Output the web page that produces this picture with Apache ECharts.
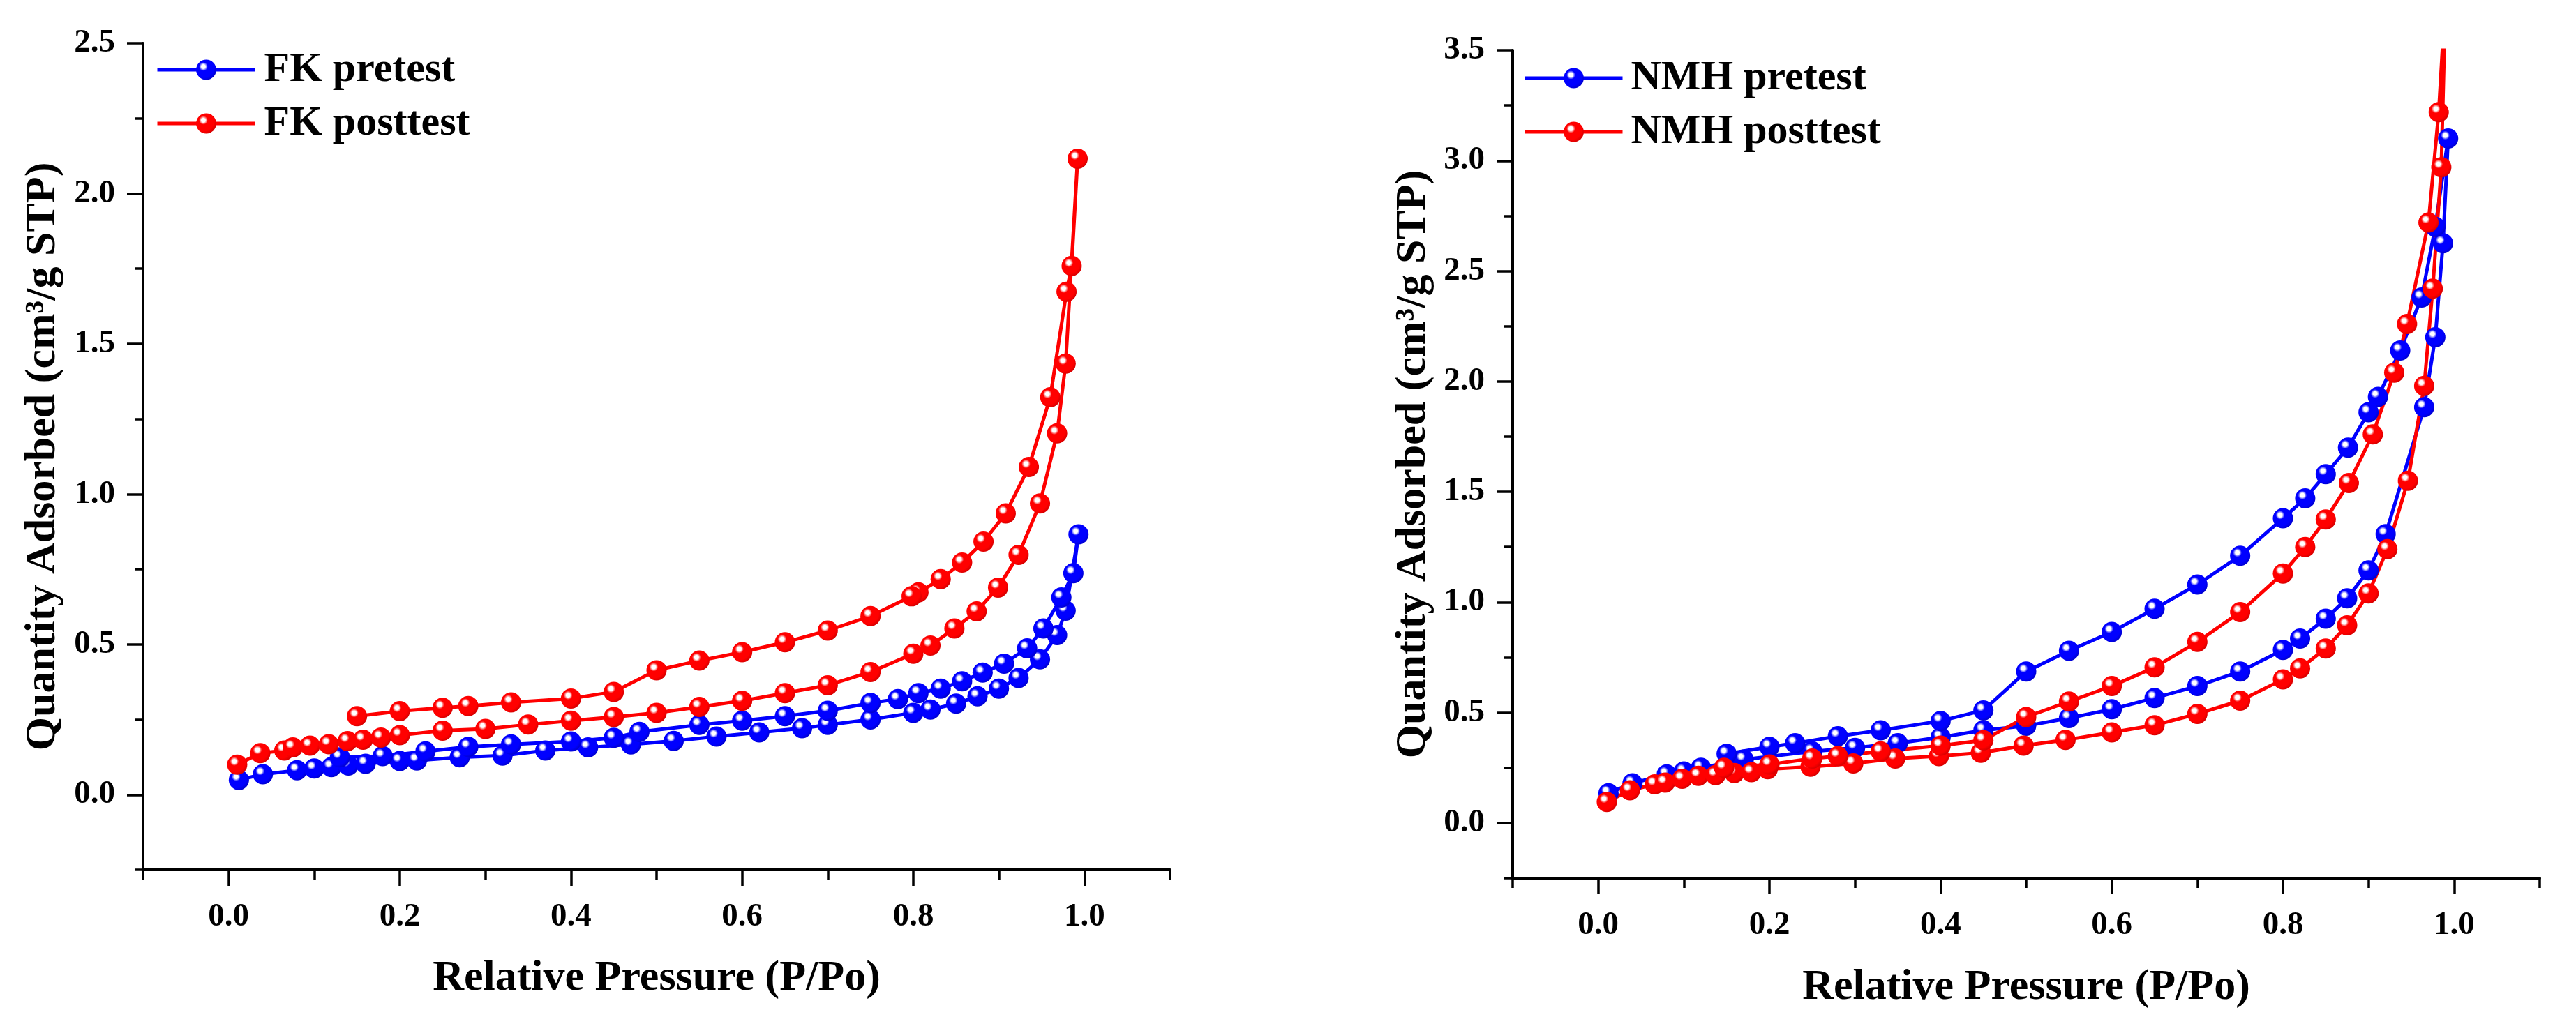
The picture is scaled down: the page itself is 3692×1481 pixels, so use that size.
<!DOCTYPE html>
<html>
<head>
<meta charset="utf-8">
<title>Isotherms</title>
<script src="https://cdn.jsdelivr.net/npm/echarts@6/dist/echarts.min.js"></script>
<style>
  html, body { margin: 0; padding: 0; background: #fff; }
  #main { width: 3692px; height: 1481px; }
</style>
</head>
<body>
<div id="main"></div>
<script>
// FK pretest: adsorption branch, then desorption branch
var fkPreAdsX = [0.012, 0.04, 0.08, 0.10, 0.12, 0.14, 0.16, 0.20, 0.22, 0.27, 0.32, 0.37, 0.42, 0.47, 0.52, 0.57, 0.62, 0.67, 0.70, 0.75, 0.80, 0.82, 0.85, 0.875, 0.90, 0.923, 0.948, 0.968, 0.978, 0.993];
var fkPreAdsY = [0.049, 0.068, 0.081, 0.087, 0.092, 0.097, 0.103, 0.112, 0.114, 0.124, 0.13, 0.147, 0.157, 0.167, 0.179, 0.193, 0.207, 0.221, 0.232, 0.25, 0.272, 0.283, 0.303, 0.327, 0.353, 0.388, 0.45, 0.531, 0.612, 0.866];
var fkPreDesX = [0.987, 0.973, 0.952, 0.933, 0.906, 0.881, 0.857, 0.832, 0.806, 0.782, 0.75, 0.70, 0.65, 0.60, 0.55, 0.48, 0.45, 0.40, 0.33, 0.28, 0.23, 0.18, 0.13];
var fkPreDesY = [0.737, 0.656, 0.553, 0.487, 0.436, 0.406, 0.377, 0.353, 0.338, 0.318, 0.305, 0.279, 0.261, 0.246, 0.232, 0.209, 0.189, 0.177, 0.167, 0.159, 0.144, 0.128, 0.124];

// FK posttest
var fkPostAdsX = [0.01, 0.037, 0.065, 0.075, 0.095, 0.117, 0.139, 0.157, 0.178, 0.20, 0.25, 0.30, 0.35, 0.40, 0.45, 0.50, 0.55, 0.60, 0.65, 0.70, 0.75, 0.80, 0.82, 0.848, 0.874, 0.899, 0.923, 0.948, 0.968, 0.978, 0.992];
var fkPostAdsY = [0.10, 0.138, 0.147, 0.157, 0.163, 0.168, 0.178, 0.183, 0.19, 0.198, 0.213, 0.219, 0.233, 0.246, 0.258, 0.272, 0.292, 0.312, 0.338, 0.364, 0.408, 0.469, 0.496, 0.553, 0.61, 0.689, 0.798, 0.969, 1.202, 1.434, 2.116];
var fkPostDesX = [0.985, 0.979, 0.96, 0.935, 0.908, 0.882, 0.857, 0.832, 0.806, 0.798, 0.75, 0.70, 0.65, 0.60, 0.55, 0.50, 0.45, 0.40, 0.33, 0.28, 0.25, 0.20, 0.15];
var fkPostDesY = [1.759, 1.673, 1.322, 1.09, 0.936, 0.842, 0.772, 0.717, 0.673, 0.66, 0.594, 0.546, 0.507, 0.474, 0.446, 0.414, 0.342, 0.32, 0.307, 0.295, 0.289, 0.278, 0.261];

// NMH pretest
var nmhPreAdsX = [0.012, 0.04, 0.08, 0.10, 0.12, 0.17, 0.25, 0.30, 0.35, 0.40, 0.45, 0.50, 0.55, 0.60, 0.65, 0.70, 0.75, 0.80, 0.82, 0.85, 0.875, 0.90, 0.92, 0.965, 0.978, 0.987, 0.993];
var nmhPreAdsY = [0.135, 0.18, 0.22, 0.233, 0.25, 0.287, 0.324, 0.34, 0.361, 0.388, 0.42, 0.44, 0.475, 0.515, 0.566, 0.62, 0.686, 0.784, 0.835, 0.925, 1.018, 1.144, 1.308, 1.883, 2.20, 2.626, 3.10];
var nmhPreDesX = [0.978, 0.962, 0.937, 0.911, 0.90, 0.876, 0.85, 0.826, 0.80, 0.75, 0.70, 0.65, 0.60, 0.55, 0.50, 0.45, 0.40, 0.33, 0.28, 0.23, 0.20, 0.15];
var nmhPreDesY = [2.70, 2.38, 2.14, 1.93, 1.86, 1.70, 1.58, 1.47, 1.38, 1.21, 1.08, 0.97, 0.865, 0.78, 0.686, 0.51, 0.462, 0.42, 0.393, 0.361, 0.345, 0.313];

// NMH posttest (highest point runs off the top of the axis)
var nmhPostAdsX = [0.01, 0.037, 0.066, 0.078, 0.098, 0.117, 0.137, 0.159, 0.179, 0.198, 0.248, 0.298, 0.347, 0.398, 0.447, 0.497, 0.546, 0.60, 0.65, 0.70, 0.75, 0.80, 0.82, 0.85, 0.875, 0.90, 0.922, 0.946, 0.965, 0.975, 0.985, 0.99];
var nmhPostAdsY = [0.095, 0.148, 0.175, 0.183, 0.20, 0.214, 0.217, 0.226, 0.23, 0.244, 0.255, 0.27, 0.292, 0.303, 0.318, 0.35, 0.376, 0.41, 0.443, 0.494, 0.554, 0.65, 0.70, 0.79, 0.895, 1.04, 1.24, 1.55, 1.98, 2.42, 2.97, 3.75];
var nmhPostDesX = [0.982, 0.97, 0.945, 0.93, 0.905, 0.877, 0.85, 0.826, 0.80, 0.75, 0.70, 0.65, 0.60, 0.55, 0.50, 0.45, 0.40, 0.33, 0.28, 0.25, 0.20, 0.147];
var nmhPostDesY = [3.22, 2.72, 2.26, 2.04, 1.76, 1.54, 1.375, 1.25, 1.13, 0.955, 0.82, 0.705, 0.62, 0.55, 0.48, 0.375, 0.35, 0.324, 0.303, 0.292, 0.265, 0.25];

// ticks
var xMajor = [0, 0.2, 0.4, 0.6, 0.8, 1.0];
var xMinor = [-0.1, 0.1, 0.3, 0.5, 0.7, 0.9, 1.1];
var yMajorFK = [0, 0.5, 1.0, 1.5, 2.0, 2.5];
var yMinorFK = [-0.25, 0.25, 0.75, 1.25, 1.75, 2.25];
var yMajorNMH = [0, 0.5, 1.0, 1.5, 2.0, 2.5, 3.0, 3.5];
var yMinorNMH = [-0.25, 0.25, 0.75, 1.25, 1.75, 2.25, 2.75, 3.25];

var FONT = '"Liberation Serif", "Times New Roman", serif';
var BLUE = '#0000ff', RED = '#ff0000';

function pairs(xs1, ys1, xs2, ys2) {
  var out = [];
  for (var i = 0; i < xs1.length; i++) out.push([xs1[i], ys1[i]]);
  for (var j = 0; j < xs2.length; j++) out.push([xs2[j], ys2[j]]);
  return out;
}

// glossy ball fill: small white spot upper-left
function ball(c, dark) {
  return {
    type: 'radial', x: 0.36, y: 0.34, r: 0.72,
    colorStops: [
      { offset: 0, color: '#ffffff' },
      { offset: 0.14, color: '#ffffff' },
      { offset: 0.3, color: c },
      { offset: 0.75, color: c },
      { offset: 1, color: dark }
    ]
  };
}

function xAxes(g, nameGap) {
  return [{
    type: 'value', gridIndex: g, position: 'bottom',
    min: -0.1, max: 1.1, interval: 0.1,
    name: 'Relative Pressure (P/Po)', nameLocation: 'middle', nameGap: nameGap,
    nameTextStyle: { fontFamily: FONT, fontWeight: 'bold', fontSize: 62, color: '#000' },
    axisLine: { show: true, onZero: false, lineStyle: { color: '#000', width: 4 } },
    axisTick: { show: true, length: 23, customValues: xMajor, lineStyle: { color: '#000', width: 3.5 } },
    axisLabel: {
      customValues: xMajor, margin: 44, fontFamily: FONT, fontWeight: 'bold', fontSize: 47, color: '#000',
      formatter: function (v) { return v.toFixed(1); }
    },
    splitLine: { show: false }
  }, {
    type: 'value', gridIndex: g, position: 'bottom',
    min: -0.1, max: 1.1, interval: 0.1,
    axisLine: { show: false, onZero: false },
    axisTick: { show: true, length: 14, customValues: xMinor, lineStyle: { color: '#000', width: 3.5 } },
    axisLabel: { show: false },
    splitLine: { show: false }
  }];
}

function yAxes(g, max, major, minor, nameGap) {
  return [{
    type: 'value', gridIndex: g, position: 'left',
    min: -0.25, max: max, interval: 0.25,
    name: 'Quantity Adsorbed (cm³/g STP)', nameLocation: 'middle', nameGap: nameGap, nameRotate: 90,
    nameTextStyle: { fontFamily: FONT, fontWeight: 'bold', fontSize: 62, color: '#000' },
    axisLine: { show: true, onZero: false, lineStyle: { color: '#000', width: 4 } },
    axisTick: { show: true, length: 23, customValues: major, lineStyle: { color: '#000', width: 3.5 } },
    axisLabel: {
      customValues: major, margin: 40, fontFamily: FONT, fontWeight: 'bold', fontSize: 47, color: '#000',
      formatter: function (v) { return v.toFixed(1); }
    },
    splitLine: { show: false }
  }, {
    type: 'value', gridIndex: g, position: 'left',
    min: -0.25, max: max, interval: 0.25,
    axisLine: { show: false, onZero: false },
    axisTick: { show: true, length: 12, customValues: minor, lineStyle: { color: '#000', width: 3.5 } },
    axisLabel: { show: false },
    splitLine: { show: false }
  }];
}

function isoSeries(name, xi, yi, data, c, dark) {
  return {
    name: name, type: 'line', xAxisIndex: xi, yAxisIndex: yi,
    data: data, symbol: 'circle', symbolSize: 29, showSymbol: true,
    clip: true, smooth: false,
    lineStyle: { color: c, width: 5 },
    itemStyle: { color: ball(c, dark) },
    emphasis: { disabled: true }
  };
}

function legendStyle(left, top, names, pad) {
  return {
    orient: 'vertical', left: left, top: top,
    itemWidth: 140, itemHeight: 36, itemGap: 17,
    data: names,
    lineStyle: { width: 5 },
    textStyle: { fontFamily: FONT, fontWeight: 'bold', fontSize: 60, lineHeight: 60, color: '#000', padding: [0, 0, 0, pad] }
  };
}

var chart = echarts.init(document.getElementById('main'));
chart.setOption({
  animation: false,
  backgroundColor: '#fff',
  grid: [
    { left: 205, right: 2015, top: 62, bottom: 234, containLabel: false },
    { left: 2168, right: 52, top: 72, bottom: 222, containLabel: false }
  ],
  legend: [
    legendStyle(218, 65, ['FK pretest', 'FK posttest'], 8),
    legendStyle(2178, 77, ['NMH pretest', 'NMH posttest'], 7)
  ],
  xAxis: xAxes(0, 125).concat(xAxes(1, 126)),
  yAxis: yAxes(0, 2.5, yMajorFK, yMinorFK, 112).concat(yAxes(1, 3.5, yMajorNMH, yMinorNMH, 111)),
  series: [
    isoSeries('FK pretest', 0, 0, pairs(fkPreAdsX, fkPreAdsY, fkPreDesX, fkPreDesY), BLUE, '#0000c8'),
    isoSeries('FK posttest', 0, 0, pairs(fkPostAdsX, fkPostAdsY, fkPostDesX, fkPostDesY), RED, '#d00000'),
    isoSeries('NMH pretest', 2, 2, pairs(nmhPreAdsX, nmhPreAdsY, nmhPreDesX, nmhPreDesY), BLUE, '#0000c8'),
    isoSeries('NMH posttest', 2, 2, pairs(nmhPostAdsX, nmhPostAdsY, nmhPostDesX, nmhPostDesY), RED, '#d00000')
  ]
});
</script>
</body>
</html>
